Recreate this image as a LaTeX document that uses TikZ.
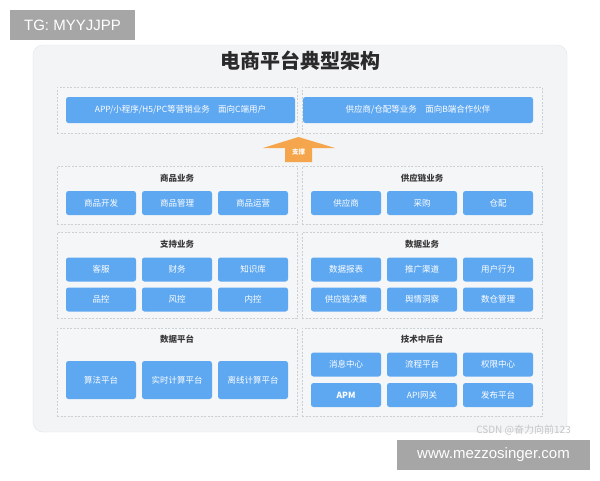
\documentclass[tikz,border=0pt]{standalone}
\usepackage{fontspec}
\setmainfont{Noto Sans CJK SC}
\newfontfamily\latinsans{Liberation Sans}
\definecolor{panelfill}{HTML}{F2F4F6}
\definecolor{panelline}{HTML}{E3E6EA}
\definecolor{groupfill}{HTML}{F5F6F8}
\definecolor{groupline}{HTML}{CBD0D5}
\definecolor{boxblue}{HTML}{5EA8F2}
\definecolor{arroworange}{HTML}{F5A64C}
\definecolor{wmgray}{HTML}{A6A6A6}
\definecolor{csdngray}{HTML}{C4C6C8}
\definecolor{titlecol}{HTML}{2A2A2A}
\definecolor{grouptitle}{HTML}{3A3A3A}
\begin{document}
\begin{tikzpicture}[x=1pt,y=-1pt,
  bbox/.style={fill=boxblue,rounded corners=2.5pt,minimum width=70pt,minimum height=24pt,inner sep=0pt,text=white,font=\fontsize{8.5}{10}\selectfont},
  groupbox/.style={draw=groupline,dashed,dash pattern=on 2pt off 1.5pt,fill=groupfill,line width=0.5pt,inner sep=0pt},
  grouptitlestyle/.style={font=\fontsize{8.5}{10}\selectfont\bfseries,text=grouptitle,inner sep=0pt},
  wmbox/.style={fill=wmgray,text=white,inner sep=0pt,font=\latinsans\fontsize{15}{17}\selectfont}]
\useasboundingbox (0,0) rectangle (600,480);
\fill[white] (0,0) rectangle (600,480);
% main panel
\node[draw=panelline,fill=panelfill,rounded corners=10pt,minimum width=534pt,minimum height=387pt,inner sep=0pt] (panel) at (300,238.5) {};
\node[font=\fontsize{20}{23}\selectfont\bfseries,text=titlecol,inner sep=0pt] (title) at (300,61) {电商平台典型架构};
% top row
\node[groupbox,minimum width=240pt,minimum height=46pt] (topL) at (177,110) {};
\node[groupbox,minimum width=240pt,minimum height=46pt] (topR) at (422,110) {};
\node[bbox,minimum width=229pt,minimum height=26pt] (appbar) at (180.5,110) {APP/小程序/H5/PC等营销业务\quad 面向C端用户};
\node[bbox,minimum width=230pt,minimum height=26pt] (supbar) at (418,110) {供应商/仓配等业务\quad 面向B端合作伙伴};
% arrow
\fill[arroworange] (285,162) -- (285,148) -- (263,148) -- (298.5,137) -- (335,148) -- (312,148) -- (312,162) -- cycle;
\node[text=white,font=\fontsize{6.5}{7}\selectfont\bfseries,inner sep=0pt] (support) at (298.5,152.5) {支撑};
% row 2
\node[groupbox,minimum width=240pt,minimum height=58pt] (gGoods) at (177,195) {};
\node[grouptitlestyle] (tGoods) at (177,178) {商品业务};
\node[bbox] (g1) at (101,203) {商品开发};
\node[bbox] (g2) at (177,203) {商品管理};
\node[bbox] (g3) at (253,203) {商品运营};
\node[groupbox,minimum width=240pt,minimum height=58pt] (gSupply) at (422,195) {};
\node[grouptitlestyle] (tSupply) at (422,178) {供应链业务};
\node[bbox] (s1) at (346,203) {供应商};
\node[bbox] (s2) at (422,203) {采购};
\node[bbox] (s3) at (498,203) {仓配};
% row 3
\node[groupbox,minimum width=240pt,minimum height=86pt] (gSupport) at (177,275) {};
\node[grouptitlestyle] (tSupport) at (177,244) {支持业务};
\node[bbox] (p1) at (101,269.5) {客服};
\node[bbox] (p2) at (177,269.5) {财务};
\node[bbox] (p3) at (253,269.5) {知识库};
\node[bbox] (p4) at (101,299.5) {品控};
\node[bbox] (p5) at (177,299.5) {风控};
\node[bbox] (p6) at (253,299.5) {内控};
\node[groupbox,minimum width=240pt,minimum height=86pt] (gData) at (422,275) {};
\node[grouptitlestyle] (tData) at (422,244) {数据业务};
\node[bbox] (d1) at (346,269.5) {数据报表};
\node[bbox] (d2) at (422,269.5) {推广渠道};
\node[bbox] (d3) at (498,269.5) {用户行为};
\node[bbox] (d4) at (346,299.5) {供应链决策};
\node[bbox] (d5) at (422,299.5) {舆情洞察};
\node[bbox] (d6) at (498,299.5) {数仓管理};
% row 4
\node[groupbox,minimum width=240pt,minimum height=88pt] (gPlat) at (177,372) {};
\node[grouptitlestyle] (tPlat) at (177,339) {数据平台};
\node[bbox,minimum height=38pt] (a1) at (101,380) {算法平台};
\node[bbox,minimum height=38pt] (a2) at (177,380) {实时计算平台};
\node[bbox,minimum height=38pt] (a3) at (253,380) {离线计算平台};
\node[groupbox,minimum width=240pt,minimum height=88pt] (gTech) at (422,372) {};
\node[grouptitlestyle] (tTech) at (422,339) {技术中后台};
\node[bbox] (t1) at (346,364.5) {消息中心};
\node[bbox] (t2) at (422,364.5) {流程平台};
\node[bbox] (t3) at (498,364.5) {权限中心};
\node[bbox,font=\fontsize{8.5}{10}\selectfont\bfseries] (t4) at (346,395) {APM};
\node[bbox] (t5) at (422,395) {API网关};
\node[bbox] (t6) at (498,395) {发布平台};
% watermarks
\node[text=csdngray,font=\fontsize{10}{11}\selectfont,inner sep=0pt,anchor=east] (csdn) at (571,430) {CSDN @奋力向前123};
\node[wmbox,minimum width=125pt,minimum height=30pt] (tg) at (72.5,25) {TG: MYYJJPP};
\node[wmbox,minimum width=193pt,minimum height=30pt] (www) at (493.5,455) {www.mezzosinger.com};
\end{tikzpicture}
\end{document}
